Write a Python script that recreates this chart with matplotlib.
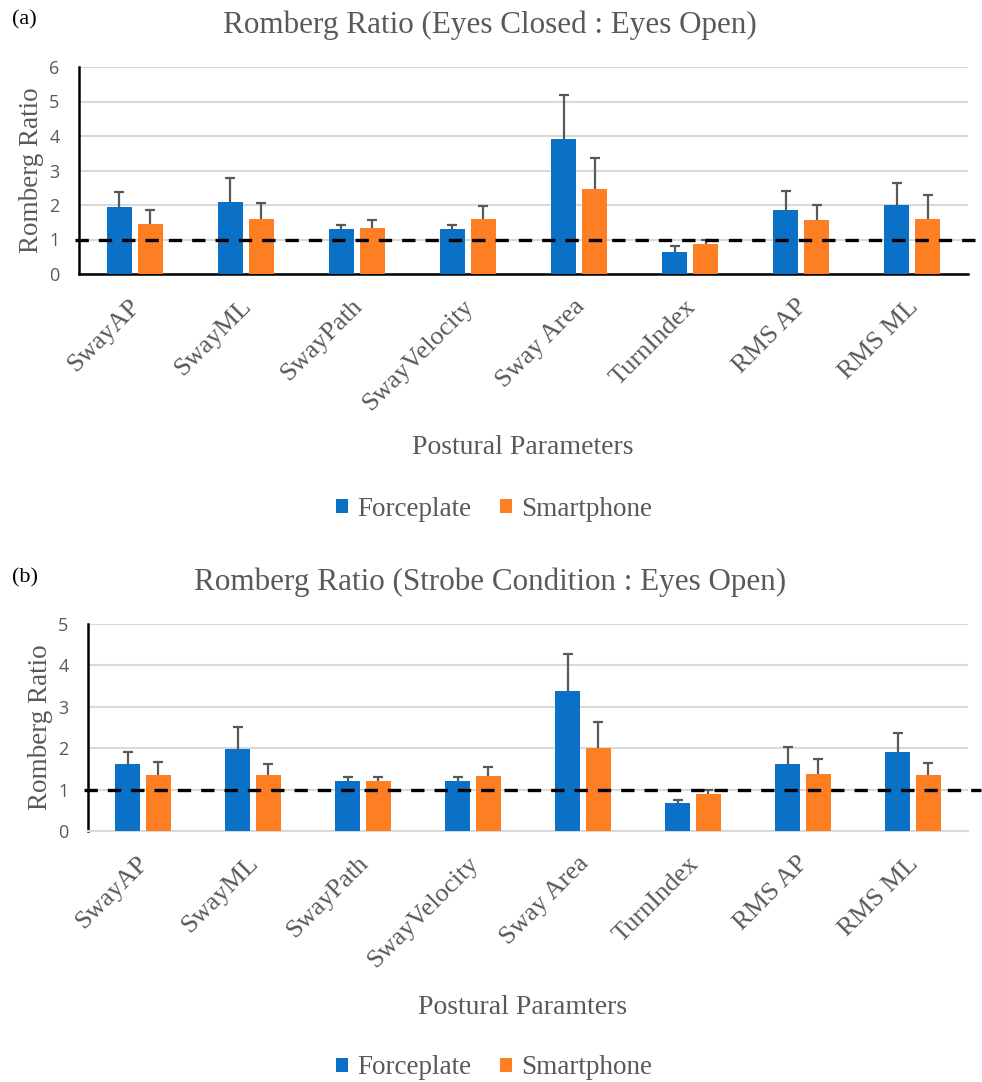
import matplotlib
matplotlib.use("Agg")
import matplotlib.pyplot as plt
import matplotlib.transforms as mtransforms
import numpy as np
from matplotlib.patches import Patch

categories = ["SwayAP", "SwayML", "SwayPath", "SwayVelocity", "Sway Area", "TurnIndex", "RMS AP", "RMS ML"]
series_names = ["Forceplate", "Smartphone"]

# Panel (a): Eyes Closed : Eyes Open
a_force = [1.93, 2.10, 1.29, 1.29, 3.90, 0.65, 1.86, 2.01]
a_force_err = [0.44, 0.67, 0.12, 0.12, 1.30, 0.16, 0.54, 0.64]
a_smart = [1.45, 1.60, 1.32, 1.58, 2.47, 0.86, 1.57, 1.60]
a_smart_err = [0.40, 0.45, 0.24, 0.39, 0.90, 0.12, 0.42, 0.68]

# Panel (b): Strobe Condition : Eyes Open
b_force = [1.61, 1.98, 1.21, 1.21, 3.39, 0.67, 1.61, 1.92]
b_force_err = [0.30, 0.54, 0.10, 0.10, 0.89, 0.09, 0.42, 0.45]
b_smart = [1.35, 1.35, 1.21, 1.32, 2.00, 0.89, 1.37, 1.35]
b_smart_err = [0.31, 0.28, 0.10, 0.23, 0.64, 0.10, 0.37, 0.30]

titles = ["Romberg Ratio (Eyes Closed : Eyes Open)", "Romberg Ratio (Strobe Condition : Eyes Open)"]
xlabels = ["Postural Parameters", "Postural Paramters"]
panel_tags = ["(a)", "(b)"]
ylims = [6, 5]

BLUE = "#0A71C6"
ORANGE = "#FD7E23"
GRAY = "#595959"
GRID = "#D9D9D9"
SERIF = ["Liberation Serif", "DejaVu Serif"]
SANS = ["Open Sans", "DejaVu Sans"]

fig = plt.figure(figsize=(9.82, 10.82), dpi=100)

W, H = 982.0, 1082.0
rects = [(79, 968, 67, 274), (88, 968, 624, 831)]
title_y = [25, 582]
tag_y = [20, 578]
xlabel_y = [448, 1008]
legend_y = [509, 1068]
bottom_black = [True, False]

data = [(a_force, a_force_err, a_smart, a_smart_err), (b_force, b_force_err, b_smart, b_smart_err)]

for p in range(2):
    l, r, t, b = rects[p]
    ax = fig.add_axes([l / W, 1 - b / H, (r - l) / W, (b - t) / H])
    f, fe, s, se = data[p]
    x = np.arange(len(categories))
    bw = 0.225
    off = 0.14
    ax.bar(x - off, f, bw, color=BLUE, zorder=3)
    ax.bar(x + off, s, bw, color=ORANGE, zorder=3)
    for xs, ys, es in [(x - off, f, fe), (x + off, s, se)]:
        eb = ax.errorbar(xs, ys, yerr=[np.zeros(len(ys)), es], fmt="none", ecolor=GRAY,
                         elinewidth=1.6, capsize=3.5, capthick=1.6, zorder=4)
        caps = eb[1]
        if len(caps) == 2:
            caps[0].set_visible(False)
    ax.set_xlim(-0.5, len(categories) - 0.5)
    ax.set_ylim(0, ylims[p])
    ax.set_yticks(range(0, ylims[p] + 1))
    ax.yaxis.grid(True, color=GRID, linewidth=1.5, zorder=0)
    ax.set_axisbelow(True)
    for sp in ["top", "right"]:
        ax.spines[sp].set_visible(False)
    ax.spines["left"].set_color("black")
    ax.spines["left"].set_linewidth(1.8)
    if bottom_black[p]:
        ax.spines["bottom"].set_color("black")
        ax.spines["bottom"].set_linewidth(1.8)
    else:
        ax.spines["bottom"].set_color(GRID)
        ax.spines["bottom"].set_linewidth(1.5)
    ax.tick_params(axis="both", length=0)
    ax.tick_params(axis="y", pad=14)
    for lab in ax.get_yticklabels():
        lab.set_fontfamily(SANS)
        lab.set_fontsize(13)
        lab.set_color(GRAY)
    ax.plot([-0.54, 7.62], [1, 1], color="black", linestyle=(0, (4, 3)), linewidth=2.4,
            clip_on=False, zorder=5)
    ax.set_xticks(x)
    ax.set_xticklabels(categories, rotation=45, ha="right", va="center", rotation_mode="anchor",
                       fontfamily=SERIF, fontsize=19, color=GRAY)
    ax.tick_params(axis="x", pad=21)
    shift = mtransforms.ScaledTranslation(0.02, 0, fig.dpi_scale_trans)
    for lab in ax.get_xticklabels():
        lab.set_transform(lab.get_transform() + shift)
    ax.set_ylabel("Romberg Ratio", fontfamily=SERIF, fontsize=19.5, color=GRAY, labelpad=4)

    fig.text(490 / W, 1 - title_y[p] / H, titles[p], ha="center", va="center",
             fontfamily=SERIF, fontsize=22.4, color=GRAY)
    fig.text(12 / W, 1 - tag_y[p] / H, panel_tags[p], ha="left", va="center",
             fontfamily=SERIF, fontsize=16, color="black")
    fig.text(523 / W, 1 - xlabel_y[p] / H, xlabels[p], ha="center", va="center",
             fontfamily=SERIF, fontsize=20, color=GRAY)
    handles = [Patch(facecolor=BLUE, edgecolor="none"), Patch(facecolor=ORANGE, edgecolor="none")]
    fig.legend(handles, series_names, loc="center", bbox_to_anchor=(494 / W, 1 - legend_y[p] / H),
               ncol=2, frameon=False, prop={"family": SERIF, "size": 19.5},
               handlelength=0.45, handleheight=0.45, handletextpad=0.33, columnspacing=1.07,
               labelcolor=GRAY)

fig.savefig("out.png", dpi=100)
